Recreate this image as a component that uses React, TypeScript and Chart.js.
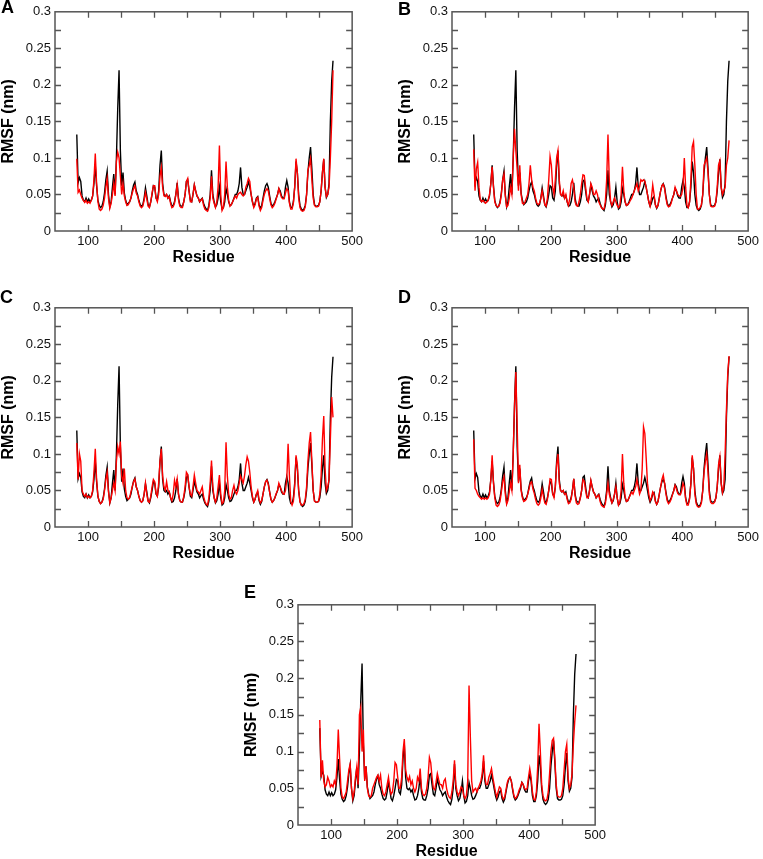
import React, { useEffect, useRef } from 'react';
import { Chart, registerables } from 'chart.js';

Chart.register(...registerables);

const FONT = '"Liberation Sans", Arial, Helvetica, sans-serif';

// Residue numbers (sampling grid)
const residues = [
  83, 85, 87, 89, 91, 93, 95, 97, 99, 101,
  103, 105, 107, 109, 111, 113, 115, 117, 119, 121,
  123, 125, 127, 129, 131, 133, 135, 137, 139, 141,
  143, 145, 147, 149, 151, 153, 155, 157, 159, 161,
  163, 165, 167, 169, 171, 173, 175, 177, 179, 181,
  183, 185, 187, 189, 191, 193, 195, 197, 199, 201,
  203, 205, 207, 209, 211, 213, 215, 217, 219, 221,
  223, 225, 227, 229, 231, 233, 235, 237, 239, 241,
  243, 245, 247, 249, 251, 253, 255, 257, 259, 261,
  263, 265, 267, 269, 271, 273, 275, 277, 279, 281,
  283, 285, 287, 289, 291, 293, 295, 297, 299, 301,
  303, 305, 307, 309, 311, 313, 315, 317, 319, 321,
  323, 325, 327, 329, 331, 333, 335, 337, 339, 341,
  343, 345, 347, 349, 351, 353, 355, 357, 359, 361,
  363, 365, 367, 369, 371, 373, 375, 377, 379, 381,
  383, 385, 387, 389, 391, 393, 395, 397, 399, 401,
  403, 405, 407, 409, 411, 413, 415, 417, 419, 421,
  423, 425, 427, 429, 431, 433, 435, 437, 439, 441,
  443, 445, 447, 449, 451, 453, 455, 457, 459, 461,
  463, 465, 467, 469, 471,
];

// Black trace (same in every panel)
const rmsfReference = [
  0.132, 0.066, 0.073, 0.068, 0.048, 0.042, 0.040, 0.045, 0.040, 0.044,
  0.040, 0.042, 0.048, 0.065, 0.090, 0.062, 0.042, 0.035, 0.032, 0.034,
  0.040, 0.052, 0.070, 0.082, 0.050, 0.033, 0.040, 0.060, 0.078, 0.050,
  0.100, 0.168, 0.220, 0.110, 0.062, 0.080, 0.052, 0.042, 0.036, 0.038,
  0.040, 0.045, 0.055, 0.063, 0.067, 0.055, 0.050, 0.042, 0.036, 0.034,
  0.036, 0.045, 0.059, 0.048, 0.036, 0.033, 0.040, 0.050, 0.062, 0.060,
  0.045, 0.042, 0.055, 0.090, 0.110, 0.065, 0.050, 0.048, 0.050, 0.045,
  0.048, 0.040, 0.034, 0.035, 0.040, 0.050, 0.066, 0.045, 0.036, 0.034,
  0.034, 0.040, 0.050, 0.068, 0.070, 0.055, 0.042, 0.040, 0.050, 0.063,
  0.055, 0.048, 0.045, 0.040, 0.043, 0.045, 0.038, 0.033, 0.030, 0.028,
  0.035, 0.050, 0.083, 0.050, 0.040, 0.033, 0.036, 0.045, 0.060, 0.040,
  0.030, 0.032, 0.040, 0.058, 0.050, 0.040, 0.035, 0.036, 0.040, 0.045,
  0.050, 0.050, 0.055, 0.065, 0.087, 0.060, 0.050, 0.050, 0.055, 0.060,
  0.068, 0.060, 0.050, 0.040, 0.034, 0.038, 0.045, 0.047, 0.036, 0.031,
  0.035, 0.045, 0.055, 0.062, 0.065, 0.060, 0.048, 0.038, 0.034, 0.036,
  0.040, 0.045, 0.050, 0.058, 0.055, 0.048, 0.045, 0.045, 0.060, 0.069,
  0.060, 0.040, 0.032, 0.032, 0.040, 0.060, 0.095, 0.080, 0.050, 0.035,
  0.030, 0.028, 0.030, 0.035, 0.050, 0.080, 0.100, 0.115, 0.085, 0.050,
  0.036, 0.034, 0.034, 0.035, 0.040, 0.055, 0.080, 0.098, 0.060, 0.046,
  0.050, 0.065, 0.150, 0.205, 0.233,
];

// Red traces, one per panel
const rmsfA = [
  0.099, 0.053, 0.056, 0.050, 0.045, 0.042, 0.039, 0.042, 0.038, 0.040,
  0.038, 0.042, 0.048, 0.070, 0.106, 0.065, 0.040, 0.030, 0.028, 0.030,
  0.035, 0.045, 0.060, 0.072, 0.045, 0.031, 0.038, 0.050, 0.065, 0.048,
  0.095, 0.108, 0.100, 0.075, 0.050, 0.065, 0.048, 0.040, 0.035, 0.036,
  0.040, 0.045, 0.052, 0.058, 0.062, 0.052, 0.048, 0.040, 0.034, 0.032,
  0.034, 0.042, 0.053, 0.044, 0.034, 0.032, 0.040, 0.052, 0.062, 0.062,
  0.045, 0.040, 0.050, 0.075, 0.087, 0.060, 0.048, 0.047, 0.050, 0.045,
  0.047, 0.038, 0.032, 0.033, 0.038, 0.050, 0.063, 0.043, 0.034, 0.032,
  0.032, 0.040, 0.050, 0.068, 0.072, 0.055, 0.040, 0.040, 0.050, 0.063,
  0.055, 0.048, 0.045, 0.040, 0.042, 0.044, 0.035, 0.030, 0.028, 0.027,
  0.032, 0.045, 0.075, 0.045, 0.038, 0.032, 0.040, 0.060, 0.117, 0.050,
  0.028, 0.032, 0.050, 0.095, 0.060, 0.042, 0.034, 0.036, 0.040, 0.044,
  0.048, 0.045, 0.050, 0.052, 0.053, 0.050, 0.048, 0.050, 0.060, 0.065,
  0.072, 0.068, 0.050, 0.040, 0.032, 0.036, 0.044, 0.046, 0.034, 0.028,
  0.032, 0.042, 0.050, 0.055, 0.058, 0.055, 0.045, 0.036, 0.032, 0.034,
  0.038, 0.044, 0.050, 0.058, 0.052, 0.046, 0.044, 0.044, 0.052, 0.058,
  0.055, 0.038, 0.030, 0.030, 0.038, 0.060, 0.099, 0.080, 0.045, 0.032,
  0.028, 0.027, 0.028, 0.033, 0.050, 0.083, 0.090, 0.099, 0.070, 0.045,
  0.035, 0.033, 0.033, 0.034, 0.040, 0.055, 0.080, 0.099, 0.060, 0.047,
  0.050, 0.060, 0.100, 0.150, 0.220,
];

const rmsfB = [
  0.112, 0.055, 0.085, 0.094, 0.060, 0.043, 0.040, 0.042, 0.040, 0.038,
  0.040, 0.042, 0.050, 0.065, 0.088, 0.060, 0.040, 0.035, 0.033, 0.034,
  0.038, 0.050, 0.070, 0.078, 0.048, 0.033, 0.035, 0.045, 0.060, 0.050,
  0.100, 0.140, 0.110, 0.085, 0.055, 0.090, 0.050, 0.038, 0.037, 0.040,
  0.045, 0.050, 0.065, 0.090, 0.070, 0.060, 0.055, 0.045, 0.038, 0.036,
  0.038, 0.045, 0.055, 0.045, 0.036, 0.034, 0.045, 0.070, 0.102, 0.090,
  0.060, 0.050, 0.070, 0.100, 0.110, 0.070, 0.050, 0.048, 0.055, 0.045,
  0.050, 0.040, 0.035, 0.045, 0.065, 0.070, 0.060, 0.040, 0.035, 0.034,
  0.040, 0.050, 0.065, 0.077, 0.076, 0.060, 0.045, 0.040, 0.050, 0.065,
  0.060, 0.050, 0.050, 0.055, 0.050, 0.040, 0.036, 0.032, 0.030, 0.030,
  0.040, 0.070, 0.132, 0.070, 0.040, 0.035, 0.040, 0.045, 0.040, 0.035,
  0.032, 0.035, 0.050, 0.088, 0.055, 0.040, 0.035, 0.036, 0.038, 0.042,
  0.045, 0.050, 0.055, 0.060, 0.065, 0.055, 0.060, 0.070, 0.068, 0.070,
  0.068, 0.060, 0.050, 0.040, 0.034, 0.045, 0.063, 0.050, 0.036, 0.032,
  0.035, 0.045, 0.055, 0.062, 0.064, 0.058, 0.045, 0.036, 0.033, 0.034,
  0.038, 0.045, 0.050, 0.060, 0.055, 0.050, 0.048, 0.047, 0.050, 0.060,
  0.100, 0.060, 0.035, 0.032, 0.040, 0.070, 0.115, 0.122, 0.090, 0.050,
  0.030, 0.030, 0.032, 0.036, 0.050, 0.090, 0.095, 0.100, 0.080, 0.050,
  0.034, 0.033, 0.033, 0.034, 0.040, 0.060, 0.090, 0.096, 0.060, 0.050,
  0.055, 0.060, 0.090, 0.100, 0.124,
];

const rmsfC = [
  0.115, 0.065, 0.100, 0.090, 0.050, 0.045, 0.042, 0.045, 0.040, 0.042,
  0.040, 0.042, 0.050, 0.075, 0.107, 0.065, 0.042, 0.035, 0.032, 0.034,
  0.038, 0.050, 0.065, 0.075, 0.048, 0.033, 0.040, 0.050, 0.060, 0.050,
  0.090, 0.110, 0.100, 0.117, 0.070, 0.060, 0.080, 0.050, 0.040, 0.038,
  0.040, 0.048, 0.055, 0.062, 0.066, 0.055, 0.050, 0.042, 0.036, 0.034,
  0.036, 0.045, 0.060, 0.045, 0.035, 0.034, 0.042, 0.055, 0.065, 0.062,
  0.046, 0.042, 0.060, 0.090, 0.107, 0.070, 0.055, 0.050, 0.062, 0.050,
  0.048, 0.040, 0.036, 0.045, 0.064, 0.055, 0.066, 0.045, 0.036, 0.034,
  0.034, 0.042, 0.055, 0.075, 0.072, 0.055, 0.045, 0.042, 0.055, 0.071,
  0.060, 0.050, 0.048, 0.045, 0.050, 0.055, 0.042, 0.035, 0.031, 0.030,
  0.040, 0.060, 0.091, 0.055, 0.040, 0.034, 0.040, 0.055, 0.071, 0.045,
  0.032, 0.034, 0.050, 0.116, 0.070, 0.045, 0.038, 0.040, 0.050, 0.057,
  0.048, 0.045, 0.050, 0.060, 0.070, 0.065, 0.060, 0.070, 0.085, 0.096,
  0.090, 0.075, 0.055, 0.042, 0.034, 0.038, 0.045, 0.050, 0.038, 0.033,
  0.036, 0.045, 0.055, 0.062, 0.064, 0.058, 0.048, 0.038, 0.034, 0.036,
  0.040, 0.046, 0.050, 0.060, 0.055, 0.050, 0.046, 0.045, 0.050, 0.065,
  0.114, 0.070, 0.035, 0.030, 0.035, 0.055, 0.098, 0.085, 0.050, 0.034,
  0.030, 0.030, 0.032, 0.038, 0.055, 0.090, 0.115, 0.130, 0.090, 0.050,
  0.035, 0.034, 0.034, 0.035, 0.045, 0.070, 0.120, 0.152, 0.080, 0.050,
  0.055, 0.065, 0.120, 0.178, 0.150,
];

const rmsfD = [
  0.120, 0.053, 0.050, 0.045, 0.042, 0.040, 0.038, 0.040, 0.038, 0.040,
  0.038, 0.040, 0.045, 0.065, 0.098, 0.060, 0.040, 0.030, 0.028, 0.030,
  0.035, 0.048, 0.062, 0.069, 0.045, 0.031, 0.036, 0.048, 0.060, 0.050,
  0.100, 0.165, 0.212, 0.140, 0.060, 0.085, 0.050, 0.040, 0.035, 0.036,
  0.038, 0.045, 0.052, 0.060, 0.062, 0.052, 0.046, 0.038, 0.032, 0.030,
  0.032, 0.040, 0.052, 0.042, 0.033, 0.031, 0.038, 0.050, 0.066, 0.065,
  0.045, 0.040, 0.055, 0.085, 0.100, 0.060, 0.050, 0.048, 0.050, 0.045,
  0.046, 0.038, 0.032, 0.033, 0.038, 0.050, 0.066, 0.043, 0.033, 0.031,
  0.032, 0.040, 0.050, 0.065, 0.063, 0.050, 0.040, 0.040, 0.050, 0.064,
  0.055, 0.048, 0.045, 0.040, 0.042, 0.044, 0.035, 0.030, 0.028, 0.027,
  0.032, 0.045, 0.060, 0.045, 0.038, 0.033, 0.038, 0.045, 0.055, 0.040,
  0.030, 0.034, 0.050, 0.100, 0.060, 0.042, 0.035, 0.036, 0.040, 0.044,
  0.048, 0.045, 0.050, 0.055, 0.065, 0.055, 0.045, 0.050, 0.080, 0.137,
  0.128, 0.095, 0.060, 0.045, 0.036, 0.040, 0.048, 0.045, 0.035, 0.031,
  0.035, 0.045, 0.055, 0.065, 0.071, 0.060, 0.046, 0.036, 0.032, 0.034,
  0.038, 0.044, 0.050, 0.057, 0.052, 0.046, 0.044, 0.044, 0.050, 0.060,
  0.055, 0.038, 0.030, 0.030, 0.038, 0.060, 0.098, 0.080, 0.045, 0.032,
  0.028, 0.027, 0.028, 0.033, 0.050, 0.075, 0.090, 0.100, 0.075, 0.045,
  0.034, 0.032, 0.032, 0.034, 0.040, 0.055, 0.085, 0.096, 0.060, 0.047,
  0.055, 0.100, 0.160, 0.210, 0.234,
];

const rmsfE = [
  0.143, 0.065, 0.088, 0.060, 0.052, 0.055, 0.065, 0.060, 0.052, 0.055,
  0.052, 0.060, 0.055, 0.080, 0.130, 0.090, 0.050, 0.038, 0.036, 0.040,
  0.045, 0.060, 0.075, 0.083, 0.050, 0.036, 0.045, 0.065, 0.079, 0.055,
  0.150, 0.160, 0.100, 0.130, 0.060, 0.080, 0.050, 0.040, 0.038, 0.040,
  0.050, 0.055, 0.060, 0.065, 0.068, 0.060, 0.068, 0.050, 0.042, 0.040,
  0.045, 0.055, 0.065, 0.050, 0.042, 0.045, 0.060, 0.085, 0.082, 0.065,
  0.050, 0.050, 0.065, 0.100, 0.117, 0.075, 0.065, 0.060, 0.066, 0.055,
  0.060, 0.050, 0.045, 0.050, 0.065, 0.060, 0.077, 0.050, 0.042, 0.040,
  0.042, 0.050, 0.065, 0.092, 0.085, 0.065, 0.050, 0.048, 0.058, 0.070,
  0.062, 0.055, 0.055, 0.050, 0.060, 0.063, 0.050, 0.042, 0.038, 0.036,
  0.045, 0.060, 0.088, 0.055, 0.045, 0.040, 0.045, 0.052, 0.050, 0.040,
  0.036, 0.040, 0.060, 0.190, 0.120, 0.060, 0.045, 0.048, 0.050, 0.045,
  0.050, 0.055, 0.060, 0.070, 0.095, 0.065, 0.055, 0.055, 0.065, 0.070,
  0.077, 0.065, 0.055, 0.045, 0.038, 0.045, 0.052, 0.050, 0.040, 0.035,
  0.038, 0.048, 0.058, 0.063, 0.065, 0.060, 0.050, 0.040, 0.036, 0.038,
  0.042, 0.048, 0.052, 0.058, 0.055, 0.050, 0.048, 0.050, 0.065, 0.077,
  0.065, 0.045, 0.035, 0.034, 0.045, 0.080, 0.138, 0.100, 0.055, 0.040,
  0.034, 0.033, 0.035, 0.045, 0.070, 0.100, 0.115, 0.118, 0.090, 0.055,
  0.040, 0.038, 0.038, 0.040, 0.050, 0.075, 0.100, 0.110, 0.065, 0.050,
  0.055, 0.070, 0.110, 0.140, 0.163,
];

const xTickValues = [100, 200, 300, 400, 500];
const xTickLabels = ['100', '200', '300', '400', '500'];
const yTickValues = [0, 0.05, 0.1, 0.15, 0.2, 0.25, 0.3];
const yTickLabels = ['0', '0.05', '0.1', '0.15', '0.2', '0.25', '0.3'];
const xMarkTicks = [100, 150, 200, 250, 300, 350, 400, 450];
const yMarkTicks = [0.025, 0.05, 0.075, 0.1, 0.125, 0.15, 0.175, 0.2, 0.225, 0.25, 0.275];
const xAxisTitle = 'Residue';
const yAxisTitle = 'RMSF (nm)';
const panelLetters = ['A', 'B', 'C', 'D', 'E'];
const panelSeries = [rmsfA, rmsfB, rmsfC, rmsfD, rmsfE];

// Layout (plot-area boxes in page pixels)
const PLOT_BOXES = [
  { left: 55, top: 10, width: 300, height: 221, lx: 1, ly: -2 },
  { left: 452, top: 10, width: 299, height: 221, lx: 398, ly: 0 },
  { left: 55, top: 306, width: 300, height: 221, lx: 0, ly: 288 },
  { left: 452, top: 306, width: 299, height: 221, lx: 398, ly: 288 },
  { left: 298, top: 603, width: 300, height: 222, lx: 244, ly: 583 },
];

const Y_AXIS_W = 55;
const X_AXIS_H = 42;
const PAD_T = 10;
const PAD_R = 11;
const FRAME_COLOR = '#555555';
const MARK_LEN = 6;

const framePlugin = {
  id: 'frameTicks',
  afterDatasetsDraw(chart: any) {
    const { ctx, chartArea: a, scales } = chart;
    ctx.save();
    ctx.strokeStyle = FRAME_COLOR;
    ctx.lineWidth = 1.3;
    ctx.beginPath();
    for (const v of xMarkTicks) {
      const px = Math.round(scales.x.getPixelForValue(v)) + 0.5;
      ctx.moveTo(px, a.bottom);
      ctx.lineTo(px, a.bottom - MARK_LEN);
      ctx.moveTo(px, a.top);
      ctx.lineTo(px, a.top + MARK_LEN);
    }
    for (const v of yMarkTicks) {
      const py = Math.round(scales.y.getPixelForValue(v)) + 0.5;
      ctx.moveTo(a.left, py);
      ctx.lineTo(a.left + MARK_LEN, py);
      ctx.moveTo(a.right, py);
      ctx.lineTo(a.right - MARK_LEN, py);
    }
    ctx.stroke();
    ctx.lineWidth = 1.5;
    ctx.strokeRect(a.left, a.top, a.right - a.left, a.bottom - a.top);
    ctx.restore();
  },
};

function Panel({ index }: { index: number }) {
  const ref = useRef<HTMLCanvasElement | null>(null);
  const box = PLOT_BOXES[index];
  const cw = box.width + Y_AXIS_W + PAD_R;
  const ch = box.height + PAD_T + X_AXIS_H;

  useEffect(() => {
    if (!ref.current) return;
    const values = panelSeries[index];
    const chart = new Chart(ref.current, {
      type: 'line',
      data: {
        datasets: [
          {
            label: 'red',
            data: residues.map((r, i) => ({ x: r, y: values[i] })),
            borderColor: '#ff0000',
            borderWidth: 1.4,
            pointRadius: 0,
            tension: 0,
            fill: false,
          },
          {
            label: 'black',
            data: residues.map((r, i) => ({ x: r, y: rmsfReference[i] })),
            borderColor: '#000000',
            borderWidth: 1.4,
            pointRadius: 0,
            tension: 0,
            fill: false,
          },
        ],
      },
      options: {
        responsive: false,
        animation: false,
        events: [],
        layout: { padding: { top: PAD_T, right: PAD_R, left: 0, bottom: 0 } },
        plugins: { legend: { display: false }, tooltip: { enabled: false }, title: { display: false } },
        scales: {
          x: {
            type: 'linear',
            min: 50,
            max: 500,
            afterBuildTicks: (s: any) => {
              s.ticks = xTickValues.map((v) => ({ value: v }));
            },
            afterFit: (s: any) => {
              s.height = X_AXIS_H;
            },
            ticks: {
              callback: (_v: any, i: number) => xTickLabels[i],
              font: { family: FONT, size: 13 },
              color: '#111111',
              padding: 3,
              maxRotation: 0,
              autoSkip: false,
            },
            grid: { display: false, drawTicks: false },
            border: { display: false },
            title: {
              display: true,
              text: xAxisTitle,
              color: '#000000',
              font: { family: FONT, size: 16, weight: 'bold', lineHeight: 1 },
              padding: { top: 0, bottom: 7 },
            },
          },
          y: {
            type: 'linear',
            min: 0,
            max: 0.3,
            afterBuildTicks: (s: any) => {
              s.ticks = yTickValues.map((v) => ({ value: v }));
            },
            afterFit: (s: any) => {
              s.width = Y_AXIS_W;
            },
            ticks: {
              callback: (_v: any, i: number) => yTickLabels[i],
              font: { family: FONT, size: 13 },
              color: '#111111',
              padding: 4,
              autoSkip: false,
            },
            grid: { display: false, drawTicks: false },
            border: { display: false },
            title: {
              display: true,
              text: yAxisTitle,
              color: '#000000',
              font: { family: FONT, size: 16, weight: 'bold', lineHeight: 1 },
              padding: { top: 1, bottom: 0 },
            },
          },
        },
      } as any,
      plugins: [framePlugin],
    });
    return () => chart.destroy();
  }, [index]);

  return (
    <>
      <canvas
        ref={ref}
        width={cw}
        height={ch}
        style={{
          position: 'absolute',
          left: box.left - Y_AXIS_W,
          top: box.top - PAD_T,
          width: cw,
          height: ch,
          display: 'block',
        }}
      />
      <div
        style={{
          position: 'absolute',
          left: box.lx,
          top: box.ly,
          font: `bold 18px ${FONT}`,
          lineHeight: '18px',
          color: '#000',
        }}
      >
        {panelLetters[index]}
      </div>
    </>
  );
}

export default function App() {
  return (
    <div
      style={{
        position: 'absolute',
        left: 0,
        top: 0,
        width: 763,
        height: 859,
        overflow: 'hidden',
        background: '#ffffff',
      }}
    >
      {panelLetters.map((_, i) => (
        <Panel key={i} index={i} />
      ))}
    </div>
  );
}
